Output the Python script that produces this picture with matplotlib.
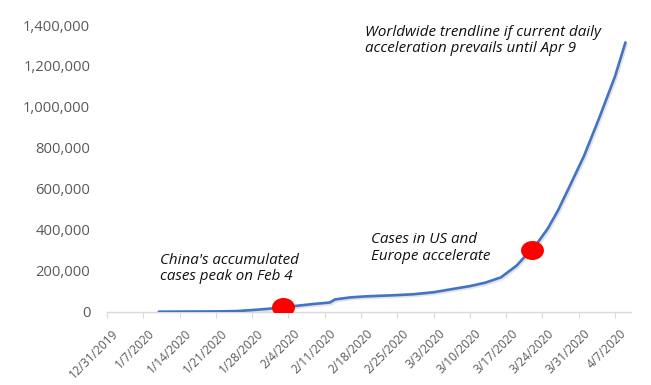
import matplotlib
matplotlib.use("Agg")
import matplotlib.pyplot as plt
import matplotlib.patheffects as pe
from matplotlib.path import Path
from matplotlib.transforms import Affine2D, ScaledTranslation
from matplotlib.ticker import FuncFormatter
import datetime as dt

# Worldwide cumulative cases
dates = ["2020-01-10", "2020-01-14", "2020-01-18", "2020-01-22", "2020-01-25",
         "2020-01-28", "2020-01-31", "2020-02-03", "2020-02-06", "2020-02-09",
         "2020-02-12", "2020-02-13", "2020-02-16", "2020-02-19", "2020-02-24",
         "2020-02-28", "2020-03-03", "2020-03-06", "2020-03-10", "2020-03-13",
         "2020-03-16", "2020-03-19", "2020-03-21", "2020-03-23", "2020-03-25",
         "2020-03-27", "2020-03-29", "2020-04-01", "2020-04-04", "2020-04-07",
         "2020-04-09"]
cases = [0, 500, 1000, 1500, 3000,
         8000, 14000, 21000, 30000, 38000,
         45000, 60000, 70000, 75000, 80000,
         85000, 95000, 108000, 125000, 142000,
         168000, 225000, 280000, 335000, 405000,
         495000, 600000, 760000, 950000, 1150000,
         1315000]

# Highlight points
dot_dates = ["2020-02-03", "2020-03-22"]
dot_values = [21000, 300000]

# Annotations
notes = ["Worldwide trendline if current daily\nacceleration prevails until Apr 9",
         "China's accumulated\ncases peak on Feb 4",
         "Cases in US and\nEurope accelerate"]

tick_dates = ["2019-12-31", "2020-01-07", "2020-01-14", "2020-01-21", "2020-01-28",
              "2020-02-04", "2020-02-11", "2020-02-18", "2020-02-25", "2020-03-03",
              "2020-03-10", "2020-03-17", "2020-03-24", "2020-03-31", "2020-04-07"]
y_ticks = [0, 200000, 400000, 600000, 800000, 1000000, 1200000, 1400000]

def d(s):
    return dt.datetime.strptime(s, "%Y-%m-%d")

x = [d(s) for s in dates]
dx = [d(s) for s in dot_dates]
tx = [d(s) for s in tick_dates]

plt.rcParams['font.family'] = ['Open Sans', 'DejaVu Sans']

fig = plt.figure(figsize=(6.51, 3.85), dpi=100)
ax = fig.add_axes([0.1643, 0.1904, 0.8044, 0.7446])

line_col = "#4472C4"
ax.plot(x, cases, color=line_col, lw=1.9, solid_capstyle="round",
        path_effects=[pe.SimpleLineShadow(offset=(1.0, -1.2), shadow_color="#b0b0b0", alpha=0.35),
                      pe.Normal()], zorder=3)

ell = Path.unit_circle().transformed(Affine2D().scale(1.0, 0.83))
ax.plot(dx, dot_values, linestyle="none", marker=ell, markersize=16.5,
        color="#FF0000", markeredgewidth=0, zorder=4)

ax.set_xlim(d("2019-12-31"), d("2020-04-10"))
ax.set_ylim(0, 1400000)

ax.set_xticks(tx)
ax.set_xticklabels([f"{t.month}/{t.day}/{t.year}" for t in tx], rotation=45,
                   ha="right", rotation_mode="anchor", fontsize=8.6, color="#595959")
ax.tick_params(axis="x", length=4, width=0.8, color="#d9d9d9", pad=7)
off = ScaledTranslation(5/100, 0, fig.dpi_scale_trans)
for lbl in ax.get_xticklabels():
    lbl.set_transform(lbl.get_transform() + off)

ax.set_yticks(y_ticks)
ax.yaxis.set_major_formatter(FuncFormatter(lambda v, p: f"{int(v):,}"))
ax.tick_params(axis="y", length=0, pad=12, labelsize=10.6, labelcolor="#595959")

for s in ["top", "right", "left"]:
    ax.spines[s].set_visible(False)
ax.spines["bottom"].set_color("#d9d9d9")
ax.spines["bottom"].set_linewidth(1.0)

txtkw = dict(fontsize=10.9, style="italic", color="#111111", ha="left", va="center",
             linespacing=1.15)
fig.text(365/651, 1 - 40.5/385, notes[0], **txtkw)
fig.text(160/651, 1 - 268.5/385, notes[1], **txtkw)
fig.text(371/651, 1 - 248/385, notes[2], **txtkw)

fig.savefig("out.png", dpi=100)
